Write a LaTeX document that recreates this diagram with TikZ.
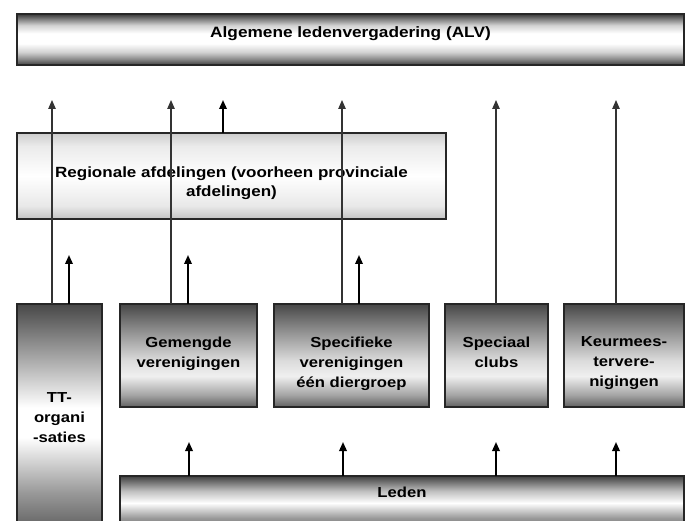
\documentclass[tikz,border=0pt]{standalone}
\usepackage{fontspec}
\newfontfamily\dfont[FakeStretch=1.15]{Liberation Sans}
\usetikzlibrary{arrows.meta}
% positions mapped to 25bp (bottom of path) .. 75bp (top of path)
\pgfdeclareverticalshading{alvsh}{100bp}{color(0bp)=(black!75); color(25bp)=(black!75); color(31bp)=(black!45); color(37.5bp)=(black!18); color(46bp)=(white); color(56bp)=(white); color(64bp)=(black!18); color(70bp)=(black!50); color(75bp)=(black!78); color(100bp)=(black!78)}
\pgfdeclareverticalshading{regsh}{100bp}{color(0bp)=(black!24); color(25bp)=(black!24); color(32.5bp)=(black!9); color(50bp)=(white); color(67.5bp)=(black!8); color(75bp)=(black!20); color(100bp)=(black!20)}
\pgfdeclareverticalshading{smallsh}{100bp}{color(0bp)=(black!62); color(25bp)=(black!62); color(31bp)=(black!35); color(40bp)=(black!6); color(47.5bp)=(black!14); color(62.5bp)=(black!45); color(75bp)=(black!72); color(100bp)=(black!72)}
\pgfdeclareverticalshading{ttsh}{100bp}{color(0bp)=(black!65); color(25bp)=(black!65); color(34bp)=(black!40); color(46bp)=(white); color(52.5bp)=(white); color(65bp)=(black!40); color(75bp)=(black!72); color(100bp)=(black!72)}
\pgfdeclareverticalshading{ledensh}{100bp}{color(0bp)=(black!70); color(25bp)=(black!70); color(40bp)=(black!40); color(52.5bp)=(white); color(62.5bp)=(black!25); color(75bp)=(black!75); color(100bp)=(black!75)}
\newcommand\boxtxt[4]{\parbox[c][#1][t]{#2}{\centering\vspace*{#3}#4\par}}
\begin{document}
\begin{tikzpicture}[x=1pt,y=-1pt,
  box/.style={draw=black!85, line width=1.6pt, inner sep=0pt, outer sep=0pt, anchor=north west,
    font={\dfont\bfseries\fontsize{14.5}{20}\selectfont}},
  longarr/.style={draw=black!80, line width=1.1pt, -{Triangle[length=9pt,width=7.5pt]}},
  shortarr/.style={draw=black, line width=1.8pt, -{Triangle[length=9pt,width=7.5pt]}}]
\useasboundingbox (0,0) rectangle (691,521);
\clip (0,0) rectangle (691,521);
\fill[white] (0,0) rectangle (691,521);
% boxes
\node[box, shading=alvsh, minimum width=667pt, minimum height=51pt, font={\dfont\bfseries\fontsize{15}{20}\selectfont}] (ALV) at (17,14)
  {\boxtxt{51pt}{667pt}{13pt}{Algemene ledenvergadering (ALV)}};
\node[box, shading=regsh, line width=1.4pt, minimum width=429pt, minimum height=86pt, font={\dfont\bfseries\fontsize{14.8}{19}\selectfont}] (Reg) at (17,133)
  {\boxtxt{86pt}{429pt}{33.5pt}{Regionale afdelingen (voorheen provinciale\\afdelingen)}};
\node[box, shading=ttsh, minimum width=85pt, minimum height=230pt] (TT) at (17,304)
  {\boxtxt{230pt}{85pt}{89pt}{TT-\\organi\\-saties}};
\node[box, shading=smallsh, minimum width=137pt, minimum height=103pt] (Gem) at (120,304)
  {\boxtxt{103pt}{137pt}{33pt}{Gemengde\\verenigingen}};
\node[box, shading=smallsh, minimum width=155pt, minimum height=103pt] (Spec) at (274,304)
  {\boxtxt{103pt}{155pt}{33pt}{Specifieke\\verenigingen\\één diergroep}};
\node[box, shading=smallsh, minimum width=103pt, minimum height=103pt] (Spc) at (445,304)
  {\boxtxt{103pt}{103pt}{33pt}{Speciaal\\clubs}};
\node[box, shading=smallsh, minimum width=120pt, minimum height=103pt] (Keur) at (564,304)
  {\boxtxt{103pt}{120pt}{33pt}{Keurmees-\\tervere-\\nigingen}};
\node[box, shading=ledensh, minimum width=564pt, minimum height=60pt] (Leden) at (120,476)
  {\boxtxt{60pt}{564pt}{11pt}{Leden}};
% arrow tips
\coordinate (tTT) at (52,100);
\coordinate (tGem) at (171,100);
\coordinate (tReg) at (223,100);
\coordinate (tSpec) at (342,100);
\coordinate (tSpc) at (496,100);
\coordinate (tKeur) at (616,100);
\coordinate (sTT) at (69,255);
\coordinate (sGem) at (188,255);
\coordinate (sSpec) at (359,255);
\coordinate (lGem) at (189,442);
\coordinate (lSpec) at (343,442);
\coordinate (lSpc) at (496,442);
\coordinate (lKeur) at (616,442);
% long arrows to ALV
\draw[longarr] (TT.north -| tTT) -- (tTT);
\draw[longarr] (Gem.north -| tGem) -- (tGem);
\draw[longarr] (Spec.north -| tSpec) -- (tSpec);
\draw[longarr] (Spc.north -| tSpc) -- (tSpc);
\draw[longarr] (Keur.north -| tKeur) -- (tKeur);
\draw[shortarr] (Reg.north -| tReg) -- (tReg);
% short arrows to regional
\draw[shortarr] (TT.north -| sTT) -- (sTT);
\draw[shortarr] (Gem.north -| sGem) -- (sGem);
\draw[shortarr] (Spec.north -| sSpec) -- (sSpec);
% arrows from Leden
\draw[shortarr] (Leden.north -| lGem) -- (lGem);
\draw[shortarr] (Leden.north -| lSpec) -- (lSpec);
\draw[shortarr] (Leden.north -| lSpc) -- (lSpc);
\draw[shortarr] (Leden.north -| lKeur) -- (lKeur);
\end{tikzpicture}
\end{document}
